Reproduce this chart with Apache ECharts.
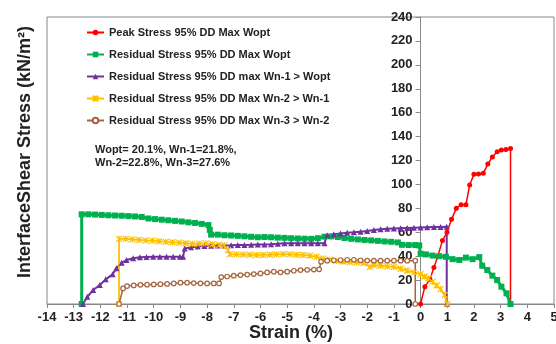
<!DOCTYPE html>
<html><head><meta charset="utf-8">
<script src="https://cdn.jsdelivr.net/npm/echarts@6/dist/echarts.min.js"></script>
<style>html,body{margin:0;padding:0;background:#fff}#c{width:556px;height:344px}</style>
</head><body><div id="c"></div>
<script>
// Tick settings
var xTicks = {min: -14, max: 5, step: 1};
var yTicks = {min: 0, max: 240, step: 20};

var seriesNames = [
  'Peak Stress 95% DD Max Wopt',
  'Residual Stress 95% DD Max Wopt',
  'Residual Stress 95% DD max Wn-1 > Wopt',
  'Residual Stress 95% DD Max Wn-2 > Wn-1',
  'Residual Stress 95% DD Max Wn-3 > Wn-2'
];

var peakStress = [[0,0],[0.16,14.5],[0.35,20.6],[0.5,30.6],[0.64,39.6],[0.82,53],[0.99,60],[1.16,70.8],[1.34,80],[1.52,83],[1.7,83],[1.84,99.5],[2.0,108.5],[2.17,108.7],[2.35,109.3],[2.52,117],[2.69,123],[2.87,127.3],[3.03,128.7],[3.2,129.3],[3.37,130],[3.37,0]];

var residualWopt = [[-12.7,0],[-12.7,75],[-12.45,75],[-12.2,74.8],[-11.95,74.5],[-11.7,74.2],[-11.45,74],[-11.2,73.8],[-10.95,73.5],[-10.7,73.2],[-10.45,72.8],[-10.2,71.5],[-9.95,71],[-9.7,70.5],[-9.45,70],[-9.2,69.5],[-8.95,69],[-8.7,68.3],[-8.45,67.8],[-8.2,67],[-7.95,66],[-7.9,62],[-7.85,58],[-7.6,58],[-7.35,57.5],[-7.1,57.3],[-6.85,57],[-6.6,56.6],[-6.35,56.2],[-6.1,55.8],[-5.85,56],[-5.6,55.8],[-5.35,55.5],[-5.1,55.3],[-4.85,55],[-4.6,54.8],[-4.35,54.6],[-4.1,54.5],[-3.85,55],[-3.6,56.3],[-3.35,56.5],[-3.1,56],[-2.85,55.2],[-2.6,54.5],[-2.35,54],[-2.1,53.5],[-1.85,53.2],[-1.6,52.8],[-1.35,52.3],[-1.1,52],[-0.85,51.5],[-0.7,49.5],[-0.45,49.3],[-0.2,49.3],[-0.05,49],[0,42],[0.2,41.5],[0.45,40.5],[0.7,40],[0.95,39.5],[1.2,37.5],[1.45,36.8],[1.7,38.8],[1.95,37.5],[2.2,39.2],[2.31,32],[2.5,28.4],[2.69,23.7],[2.87,20],[3.03,14.5],[3.22,8.9],[3.37,0]];

var residualWn1 = [[-12.65,0],[-12.49,6],[-12.27,11.7],[-12.02,15.9],[-11.8,20.6],[-11.54,24.8],[-11.4,29.8],[-11.2,34.5],[-11.02,36.8],[-10.77,38.2],[-10.52,39],[-10.27,39.4],[-10.02,39.6],[-9.77,39.6],[-9.52,39.6],[-9.27,39.6],[-9.02,39.6],[-8.9,39.6],[-8.84,46.5],[-8.6,47.5],[-8.35,48],[-8.1,48.5],[-7.85,48.8],[-7.6,49],[-7.35,49],[-7.1,49.1],[-6.85,49.3],[-6.6,49.4],[-6.35,49.5],[-6.1,49.7],[-5.85,49.8],[-5.6,50],[-5.35,50.3],[-5.1,50.7],[-4.85,50.8],[-4.6,50.8],[-4.35,50.8],[-4.1,50.8],[-3.85,50.8],[-3.6,50.8],[-3.5,57.5],[-3.25,58.3],[-3,59],[-2.75,59.6],[-2.5,60],[-2.25,60.5],[-2,61],[-1.75,61.8],[-1.5,62.5],[-1.25,63],[-1,63.2],[-0.75,63.4],[-0.5,63.6],[-0.25,63.8],[0,64],[0.25,64.2],[0.5,64.3],[0.75,64.4],[0.98,64.5],[0.98,0]];

var residualWn2 = [[-11.3,0],[-11.3,54.5],[-11.05,54.5],[-10.8,54],[-10.55,53.6],[-10.3,53.2],[-10.05,53],[-9.8,52.5],[-9.55,52],[-9.3,51.6],[-9.05,51.3],[-8.8,50.8],[-8.55,50.3],[-8.3,50.5],[-8.05,50.7],[-7.8,50],[-7.55,49.5],[-7.35,49],[-7.22,45],[-7.15,41.5],[-6.9,41.5],[-6.65,41.3],[-6.4,41.2],[-6.15,41],[-5.9,41],[-5.65,41.2],[-5.4,41.5],[-5.15,41.7],[-4.9,41.5],[-4.65,41.2],[-4.4,41],[-4.15,40.5],[-3.9,39.5],[-3.65,38],[-3.4,37],[-3.15,36],[-2.9,35.5],[-2.65,35],[-2.4,34.6],[-2.15,34.2],[-1.9,31],[-1.75,32.5],[-1.5,32],[-1.25,31.5],[-1,31],[-0.75,29.5],[-0.5,28],[-0.25,26.5],[0,25],[0.15,23],[0.3,21.5],[0.45,18.5],[0.6,15.5],[0.75,12.5],[0.9,7.5],[1.0,0]];

var residualWn3 = [[-11.3,0],[-11.15,13],[-11.0,15],[-10.75,15.5],[-10.5,16],[-10.25,16.2],[-10,16.4],[-9.75,16.6],[-9.5,16.8],[-9.25,17.2],[-9,17.8],[-8.75,17.8],[-8.5,17.5],[-8.25,17.3],[-8,17.2],[-7.75,17.2],[-7.55,17.2],[-7.47,22.5],[-7.25,23],[-7,23.7],[-6.75,24.2],[-6.5,24.6],[-6.25,25],[-6,25.6],[-5.75,26.4],[-5.5,27],[-5.25,26.5],[-5,27],[-4.75,27.8],[-4.5,28.4],[-4.25,28.6],[-4,28.8],[-3.8,29],[-3.73,35.4],[-3.5,36.2],[-3.25,36.6],[-3,36.8],[-2.75,37],[-2.5,37],[-2.25,36.6],[-2,36.3],[-1.75,36.2],[-1.5,36.2],[-1.25,36.2],[-1,36.2],[-0.75,36.2],[-0.5,36.2],[-0.2,36.2],[-0.2,0]];

var noteLines = ['Wopt= 20.1%, Wn-1=21.8%,', 'Wn-2=22.8%, Wn-3=27.6%'];
var xTitle = 'Strain (%)';
var yTitle = 'InterfaceShear Stress (kN/m\u00B2)';

var chart = echarts.init(document.getElementById('c'), null, {renderer: 'canvas'});
var FONT = 'Liberation Sans, Arial, sans-serif';
var GRID = {left: 47, right: 2, top: 17, bottom: 40};
function mk(name, data, color, symbol, size, lw, style) {
  var st = style === 'hollow' ? {color: '#fff', borderColor: color, borderWidth: 1.2}
         : style === 'stroke' ? {color: color, borderColor: color, borderWidth: 1.2}
         : {color: color, borderWidth: 0};
  return {
    name: name, type: 'line', data: data, symbol: symbol, symbolSize: size,
    showSymbol: true, animation: false,
    lineStyle: {color: color, width: lw},
    itemStyle: st
  };
}
function buildOption(yOffset) {
  return {
    animation: false,
    backgroundColor: '#fff',
    grid: {left: GRID.left, right: GRID.right, top: GRID.top, bottom: GRID.bottom, show: true, borderColor: '#888', borderWidth: 1, containLabel: false, outerBoundsMode: 'none'},
    legend: {
      orient: 'vertical', left: 81, top: 21, itemGap: 9, itemWidth: 17, itemHeight: 7,
      textStyle: {fontFamily: FONT, fontWeight: 'bold', fontSize: 11, color: '#222', lineHeight: 13},
      data: seriesNames
    },
    xAxis: {
      type: 'value', min: xTicks.min, max: xTicks.max, interval: xTicks.step,
      axisLine: {onZero: false, lineStyle: {color: '#888'}},
      axisTick: {show: true, length: 4, lineStyle: {color: '#888'}},
      axisLabel: {fontFamily: FONT, fontWeight: 'bold', fontSize: 13, color: '#222', margin: 7, hideOverlap: false},
      splitLine: {show: false}
    },
    yAxis: {
      type: 'value', min: yTicks.min, max: yTicks.max, interval: yTicks.step,
      offset: yOffset,
      axisLine: {show: true, onZero: false, lineStyle: {color: '#888'}},
      axisTick: {show: true, length: 5, lineStyle: {color: '#888'}},
      axisLabel: {fontFamily: FONT, fontWeight: 'bold', fontSize: 13, color: '#222', margin: 8},
      splitLine: {show: false}
    },
    graphic: [
      {type: 'text', left: 95, top: 143, style: {text: noteLines.join('\n'), font: 'bold 11px ' + FONT, fill: '#222', lineHeight: 13}},
      {type: 'text', x: 25, y: 152, rotation: Math.PI / 2, style: {text: yTitle, font: 'bold 18px ' + FONT, fill: '#222', align: 'center', verticalAlign: 'middle'}},
      {type: 'text', x: 291, y: 333, style: {text: xTitle, font: 'bold 18px ' + FONT, fill: '#222', align: 'center', verticalAlign: 'middle'}}
    ],
    series: [
      mk(seriesNames[0], peakStress, '#FF0000', 'circle', 5, 1.5, 'fill'),
      mk(seriesNames[1], residualWopt, '#00B050', 'rect', 6, 3, 'fill'),
      mk(seriesNames[2], residualWn1, '#7030A0', 'triangle', 6, 2, 'fill'),
      mk(seriesNames[3], residualWn2, '#FFC000', 'path://M0,0L10,10M10,0L0,10M5,0L5,10', 6, 1.8, 'stroke'),
      mk(seriesNames[4], residualWn3, '#A5673F', 'circle', 4.5, 1.5, 'hollow')
    ]
  };
}
chart.setOption(buildOption(0));
// move the y axis to strain = 0 (axis crosses at zero, as in the original)
var zeroPx = chart.convertToPixel({xAxisIndex: 0}, 0);
chart.setOption(buildOption(-(zeroPx - GRID.left)));
</script>
</body></html>
